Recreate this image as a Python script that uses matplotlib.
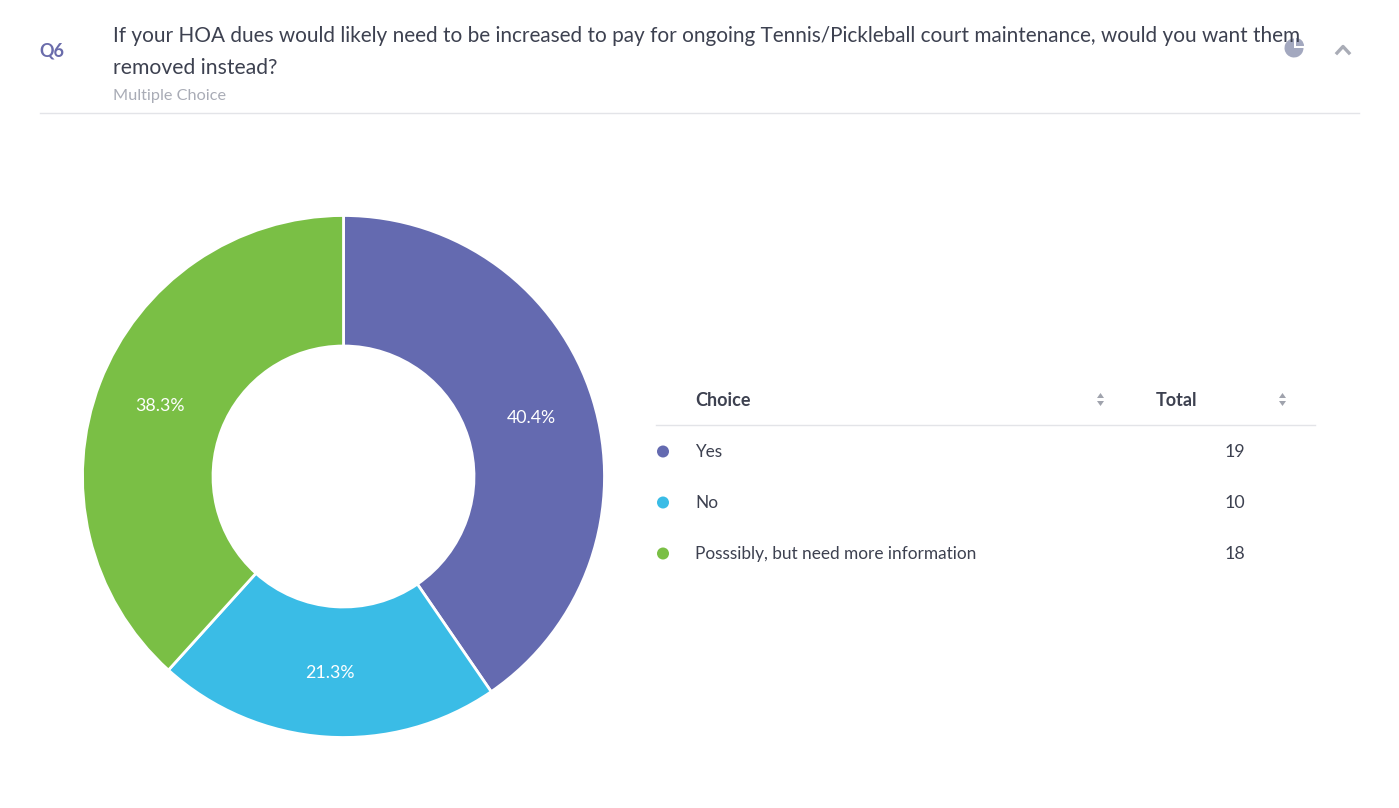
import numpy as np
import matplotlib
matplotlib.use('Agg')
import matplotlib.pyplot as plt
from matplotlib.patches import Wedge, Circle, Polygon

plt.rcParams['font.family'] = ['Lato', 'DejaVu Sans']

choices = ['Yes', 'No', 'Posssibly, but need more information']
totals = [19, 10, 18]
colors = ['#646ab0', '#3abce6', '#7abf45']
pct_labels = ['40.4%', '21.3%', '38.3%']

W, H = 1399, 808
fig = plt.figure(figsize=(W / 100, H / 100), dpi=100)
page = fig.add_axes([0, 0, 1, 1])
page.set_xlim(0, W)
page.set_ylim(H, 0)
page.axis('off')

dark = '#3d4150'

# header
page.text(39, 51, 'Q6', fontsize=13, fontweight='bold', color='#6a6cab', va='center')
page.text(113, 36, 'If your HOA dues would likely need to be increased to pay for ongoing Tennis/Pickleball court maintenance, would you want them',
          fontsize=14.97, color=dark, va='center')
page.text(113, 68, 'removed instead?', fontsize=15.25, color=dark, va='center')
page.text(113, 96, 'Multiple Choice', fontsize=11.7, color='#a9acb6', va='center')
page.plot([40, 1359], [113, 113], color='#e3e4e8', lw=1)

# little pie icon and chevron
page.add_patch(Wedge((1294, 48), 9.5, 0, 270, fc='#a3a8bf', ec='none'))
page.add_patch(Wedge((1296, 46), 8, 270, 360, fc='#a3a8bf', ec='none'))
page.plot([1337, 1343, 1349], [53, 46.5, 53], color='#a9acb6', lw=2.4)

# donut
ax = fig.add_axes([82.5 / W, 1 - 737.5 / H, 522 / W, 522 / H])
wedges, _ = ax.pie(totals, colors=colors, startangle=90, counterclock=False, radius=1,
                   wedgeprops=dict(width=0.5, edgecolor='white', linewidth=2))
ax.set_xlim(-1, 1)
ax.set_ylim(-1, 1)
# labels sit a bit outside mid-ring
total = sum(totals)
start = 90
for val, lab in zip(totals, pct_labels):
    mid = np.radians(start - val / total * 180)
    start -= val / total * 360
    ax.text(0.755 * np.cos(mid), 0.755 * np.sin(mid), lab, color='white', fontsize=12.8,
            ha='center', va='center')

# table
page.text(695, 400, 'Choice', fontsize=13, fontweight='bold', color=dark, va='center')
page.text(1156, 400, 'Total', fontsize=13, fontweight='bold', color=dark, va='center')
page.plot([656, 1315], [425, 425], color='#e3e4e8', lw=1)
for x in [1100.5, 1282.5]:
    page.add_patch(Polygon([[x - 3.5, 398], [x + 3.5, 398], [x, 393]], fc='#a0a3ad', ec='none'))
    page.add_patch(Polygon([[x - 3.5, 401], [x + 3.5, 401], [x, 406]], fc='#a0a3ad', ec='none'))

row_y = [452, 503, 554]
for y, name, n, c in zip(row_y, choices, totals, colors):
    page.add_patch(Circle((663, y - 0.5), 6, fc=c, ec='none'))
    page.text(695, y, name, fontsize=12.45, color=dark, va='center')
    page.text(1235, y, str(n), fontsize=12.9, color=dark, va='center', ha='center')

fig.savefig('out.png', dpi=100, facecolor='white')
